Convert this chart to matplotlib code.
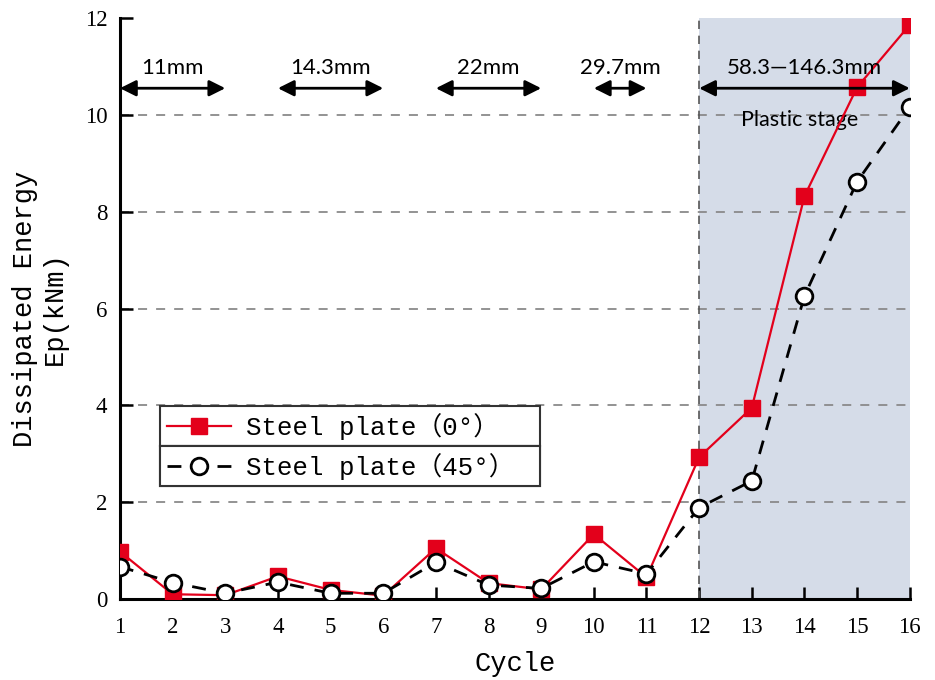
import matplotlib
matplotlib.use("Agg")
import matplotlib.pyplot as plt

cycles = list(range(1, 17))
energy_0deg = [0.98, 0.10, 0.08, 0.47, 0.19, 0.07, 1.05, 0.33, 0.20, 1.34, 0.45,
               2.93, 3.95, 8.32, 10.57, 11.86]
energy_45deg = [0.67, 0.34, 0.12, 0.35, 0.12, 0.12, 0.76, 0.29, 0.22, 0.77, 0.52,
                1.89, 2.44, 6.26, 8.62, 10.16]
yticks = [0, 2, 4, 6, 8, 10, 12]

stage_labels = ["11mm", "14.3mm", "22mm", "29.7mm", "58.3\u2014146.3mm"]
stage_starts = [1, 4, 7, 10, 12]
stage_ends = [3, 6, 9, 11, 16]
plastic_start = 12
plastic_end = 16

mono = ["Liberation Mono", "Noto Sans CJK SC", "DejaVu Sans"]
serif = ["Liberation Serif", "DejaVu Serif"]
sans = ["Lato", "DejaVu Sans"]

fig = plt.figure(figsize=(9.35, 6.8), dpi=100)
ax = fig.add_axes([0.1283, 0.119, 0.8447, 0.8545])

ax.axvspan(plastic_start, plastic_end, color="#d5dce8", zorder=0, lw=0)
ax.axvline(plastic_start, color="#555555", lw=1.2, ls=(0, (5, 4)), zorder=1)

ax.set_xlim(1, 16)
ax.set_ylim(0, 12)
ax.set_xticks(cycles)
ax.set_yticks(yticks)
ax.grid(axis="y", color="#8a8a8a", lw=1.3, ls=(0, (5, 5)), zorder=1)
ax.set_axisbelow(True)
fig.canvas.draw()
gls = ax.yaxis.get_gridlines()
gls[0].set_visible(False)
gls[-1].set_visible(False)

for s in ["top", "right"]:
    ax.spines[s].set_visible(False)
for s in ["left", "bottom"]:
    ax.spines[s].set_linewidth(2.2)
ax.tick_params(direction="in", length=9, width=1.8, labelsize=16.5)
ax.tick_params(axis="x", pad=13)
ax.tick_params(axis="y", pad=9)
for lab in ax.get_xticklabels() + ax.get_yticklabels():
    lab.set_fontfamily(serif)

ax.plot(cycles, energy_0deg, color="#e3001b", lw=1.6, marker="s", markersize=11,
        markerfacecolor="#e3001b", markeredgecolor="#e3001b", zorder=3,
        label="Steel plate\uff080\u00b0\uff09")
ax.plot(cycles, energy_45deg, color="black", lw=2.0, ls=(0, (5, 4)), marker="o",
        markersize=12, markerfacecolor="white", markeredgecolor="black",
        markeredgewidth=2.0, zorder=4, label="Steel plate\uff0845\u00b0\uff09")

arrow_y = 10.55
text_y = 10.97
for lab, x0, x1 in zip(stage_labels, stage_starts, stage_ends):
    ax.annotate("", xy=(x0, arrow_y), xytext=(x1, arrow_y),
                arrowprops=dict(arrowstyle="<|-|>", color="black", lw=2.0,
                                mutation_scale=24, shrinkA=0, shrinkB=0),
                annotation_clip=False, zorder=5)
    ax.text((x0 + x1) / 2, text_y, lab, ha="center", va="center",
            fontsize=16, family=sans, zorder=5)
ax.text(13.9, 9.9, "Plastic stage", ha="center", va="center", fontsize=15.5,
        family=sans, zorder=2)

ax.set_xlabel("Cycle", fontsize=19.5, family=mono, labelpad=9)
ax.set_ylabel("Dissipated Energy\nEp(kNm)", fontsize=19.5, family=mono,
              linespacing=1.2, labelpad=12)

handles, labels = ax.get_legend_handles_labels()
tops = [0.3322, 0.2634]
for h, l, t in zip(handles, labels, tops):
    leg = ax.legend([h], [l], loc="upper left", bbox_to_anchor=(0.0506, t, 0.4814, 0.0),
                    mode="expand",
                    prop={"family": mono, "size": 18.5}, frameon=True,
                    fancybox=False, edgecolor="#333333", framealpha=1,
                    handlelength=2.5, handletextpad=0.6, borderpad=0.26,
                    borderaxespad=0)
    leg.get_frame().set_linewidth(1.5)
    leg.set_zorder(6)
    ax.add_artist(leg)

fig.savefig("out.png", dpi=100)
